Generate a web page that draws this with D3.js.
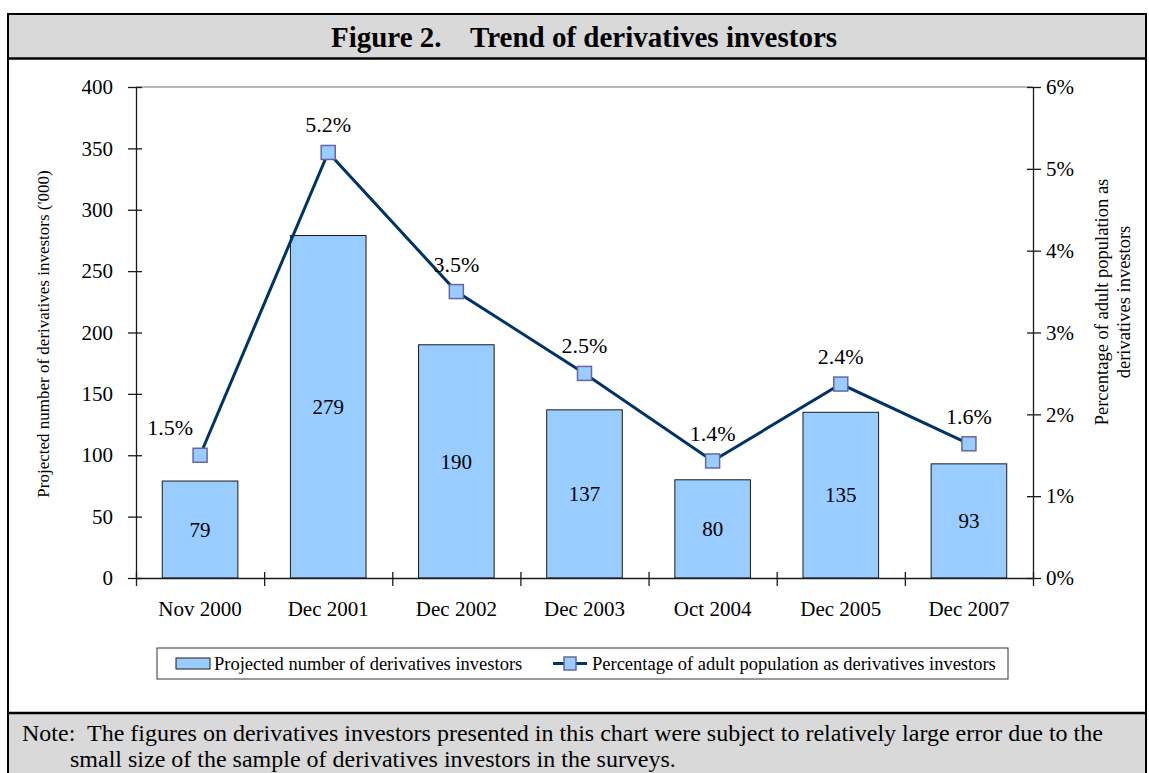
<!DOCTYPE html>
<html>
<head>
<meta charset="utf-8">
<script src="https://cdn.jsdelivr.net/npm/d3@7"></script>
<style>
  body { margin: 0; background: #fff; }
  svg text { font-family: "Liberation Serif", "Times New Roman", serif; fill: #000; }
</style>
</head>
<body>
<svg id="chart"></svg>
<script>
const periods = ['Nov 2000', 'Dec 2001', 'Dec 2002', 'Dec 2003', 'Oct 2004', 'Dec 2005', 'Dec 2007'];
const investors = [79, 279, 190, 137, 80, 135, 93];
const percentAdult = [1.5, 5.2, 3.5, 2.5, 1.43, 2.37, 1.64];
const leftTicks = [0, 50, 100, 150, 200, 250, 300, 350, 400];
const rightTicks = [0, 1, 2, 3, 4, 5, 6];

const width = 1149;
const height = 773;
const plot = { left: 136, right: 1033, top: 87, bottom: 578 };

const svg = d3.select('#chart').attr('width', width).attr('height', height);

/* frame, title band and note band */
svg.append('rect').attr('x', 8).attr('y', 14).attr('width', 1138).attr('height', 44).attr('fill', '#d9d9d9');
svg.append('rect').attr('x', 8).attr('y', 713).attr('width', 1138).attr('height', 70).attr('fill', '#d9d9d9');
svg.append('rect').attr('x', 8).attr('y', 14).attr('width', 1138).attr('height', 780)
  .attr('fill', 'none').attr('stroke', '#000').attr('stroke-width', 2);
svg.append('line').attr('x1', 8).attr('x2', 1146).attr('y1', 58.5).attr('y2', 58.5).attr('stroke', '#000').attr('stroke-width', 2.5);
svg.append('line').attr('x1', 8).attr('x2', 1146).attr('y1', 713).attr('y2', 713).attr('stroke', '#000').attr('stroke-width', 2.5);

svg.append('text').attr('x', 584).attr('y', 47).attr('text-anchor', 'middle')
  .style('font-size', '29px').style('font-weight', 'bold').style('white-space', 'pre')
  .text('Figure 2.    Trend of derivatives investors');

const note = svg.append('g').style('font-size', '24px');
note.append('text').attr('x', 22).attr('y', 741).text('Note:');
note.append('text').attr('x', 87).attr('y', 741)
  .text('The figures on derivatives investors presented in this chart were subject to relatively large error due to the');
note.append('text').attr('x', 70).attr('y', 767)
  .text('small size of the sample of derivatives investors in the surveys.');

/* scales */
const xBand = d3.scaleBand().domain(periods).range([plot.left, plot.right]).paddingInner(0.41).paddingOuter(0.205);
const xEdge = d3.scaleLinear().domain([0, periods.length]).range([plot.left, plot.right]);
const yLeft = d3.scaleLinear().domain([0, 400]).range([plot.bottom, plot.top]);
const yRight = d3.scaleLinear().domain([0, 6]).range([plot.bottom, plot.top]);
const xCenter = p => xBand(p) + xBand.bandwidth() / 2;

/* top border of plot */
svg.append('line').attr('x1', plot.left).attr('x2', plot.right).attr('y1', plot.top).attr('y2', plot.top)
  .attr('stroke', '#a0a0a0').attr('stroke-width', 1.5);

/* bars */
svg.append('g').selectAll('rect').data(investors).enter().append('rect')
  .attr('x', (d, i) => xBand(periods[i]))
  .attr('y', d => yLeft(d))
  .attr('width', xBand.bandwidth())
  .attr('height', d => yLeft(0) - yLeft(d))
  .attr('fill', '#99ccff').attr('stroke', '#1a1a1a').attr('stroke-width', 1);

svg.append('g').selectAll('text').data(investors).enter().append('text')
  .attr('x', (d, i) => xCenter(periods[i]))
  .attr('y', d => (yLeft(d) + yLeft(0)) / 2)
  .attr('dy', '0.35em').attr('text-anchor', 'middle').style('font-size', '21px')
  .text(d => d);

/* left axis */
svg.append('g').attr('transform', `translate(${plot.left},0)`)
  .call(d3.axisLeft(yLeft).tickValues(leftTicks).tickSize(8).tickPadding(15).tickSizeOuter(0));
svg.append('g').attr('transform', `translate(${plot.left},0)`)
  .call(d3.axisRight(yLeft).tickValues(leftTicks).tickSize(6).tickFormat('').tickSizeOuter(0))
  .select('.domain').remove();

/* right axis */
svg.append('g').attr('transform', `translate(${plot.right},0)`)
  .call(d3.axisRight(yRight).tickValues(rightTicks).tickSize(8).tickPadding(5).tickSizeOuter(0)
    .tickFormat(d => d + '%'));
svg.append('g').attr('transform', `translate(${plot.right},0)`)
  .call(d3.axisLeft(yRight).tickValues(rightTicks).tickSize(6).tickFormat('').tickSizeOuter(0))
  .select('.domain').remove();

/* bottom axis: edge ticks plus category labels */
svg.append('g').attr('transform', `translate(0,${plot.bottom})`)
  .call(d3.axisBottom(xEdge).ticks(periods.length).tickSize(8).tickFormat('').tickSizeOuter(0));
svg.append('g').attr('transform', `translate(0,${plot.bottom})`)
  .call(d3.axisTop(xEdge).ticks(periods.length).tickSize(6).tickFormat('').tickSizeOuter(0))
  .select('.domain').remove();
const bottomLabels = svg.append('g').attr('transform', `translate(0,${plot.bottom})`)
  .call(d3.axisBottom(xBand).tickSize(0).tickPadding(23));
bottomLabels.select('.domain').remove();

svg.selectAll('.tick text').style('font-size', '21px');
svg.selectAll('g[font-family]').attr('font-family', null);
svg.selectAll('.domain, .tick line').attr('stroke', '#1a1a1a').attr('stroke-width', 1.3);

/* axis titles */
svg.append('text').attr('transform', 'translate(49,334) rotate(-90)').attr('text-anchor', 'middle')
  .style('font-size', '17px').text("Projected number of derivatives investors ('000)");
svg.append('text').attr('transform', 'translate(1108,302) rotate(-90)').attr('text-anchor', 'middle')
  .style('font-size', '18.5px').text('Percentage of adult population as');
svg.append('text').attr('transform', 'translate(1130,302) rotate(-90)').attr('text-anchor', 'middle')
  .style('font-size', '18.5px').text('derivatives investors');

/* line series */
const line = d3.line().x((d, i) => xCenter(periods[i])).y(d => yRight(d));
svg.append('path').datum(percentAdult).attr('d', line)
  .attr('fill', 'none').attr('stroke', '#003366').attr('stroke-width', 3);

svg.append('g').selectAll('rect').data(percentAdult).enter().append('rect')
  .attr('x', (d, i) => xCenter(periods[i]) - 7)
  .attr('y', d => yRight(d) - 7)
  .attr('width', 14).attr('height', 14)
  .attr('fill', '#99ccff').attr('stroke', '#6666a0').attr('stroke-width', 1.5);

svg.append('g').selectAll('text').data(percentAdult).enter().append('text')
  .attr('x', (d, i) => xCenter(periods[i]) - (i === 0 ? 30 : 0))
  .attr('y', d => yRight(d) - 20)
  .attr('text-anchor', 'middle').style('font-size', '22px')
  .text(d => d.toFixed(1) + '%');

/* legend */
const legend = svg.append('g').style('font-size', '18.5px');
legend.append('rect').attr('x', 157).attr('y', 648).attr('width', 851).attr('height', 31)
  .attr('fill', '#fff').attr('stroke', '#333').attr('stroke-width', 1);
legend.append('rect').attr('x', 176).attr('y', 658).attr('width', 34).attr('height', 11)
  .attr('fill', '#99ccff').attr('stroke', '#1a1a1a').attr('stroke-width', 1);
legend.append('text').attr('x', 214).attr('y', 670)
  .text('Projected number of derivatives investors');
legend.append('line').attr('x1', 553).attr('x2', 587).attr('y1', 663.5).attr('y2', 663.5)
  .attr('stroke', '#003366').attr('stroke-width', 3);
legend.append('rect').attr('x', 564).attr('y', 657).attr('width', 12).attr('height', 13)
  .attr('fill', '#99ccff').attr('stroke', '#6666a0').attr('stroke-width', 1.5);
legend.append('text').attr('x', 592).attr('y', 670)
  .text('Percentage of adult population as derivatives investors');
</script>
</body>
</html>
